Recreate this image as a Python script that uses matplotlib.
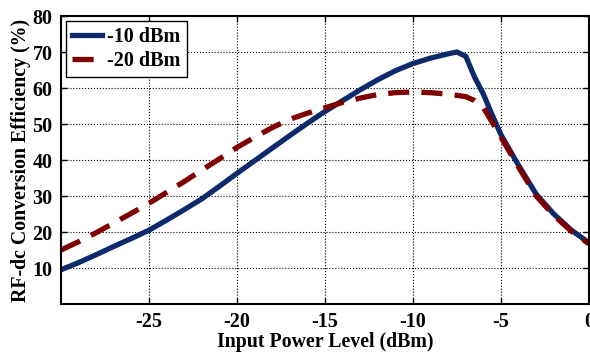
import matplotlib
matplotlib.use('Agg')
import matplotlib.pyplot as plt

# Input power (dBm) and RF-dc conversion efficiency (%)
p_in_10 = [-30, -29, -28, -27, -26, -25, -24, -23, -22, -21, -20, -19, -18, -17,
           -16, -15, -14, -13, -12, -11, -10, -9, -8, -7.5, -7, -6.5, -6, -5.5,
           -5, -4, -3, -2, -1, 0]
eff_10 = [9.5, 11.5, 13.7, 16.0, 18.2, 20.5, 23.3, 26.2, 29.2, 32.7, 36.3, 39.8,
          43.3, 46.8, 50.2, 53.5, 56.5, 59.5, 62.3, 64.8, 66.8, 68.3, 69.5, 70.0,
          68.8, 63.0, 58.3, 52.5, 47.0, 38.5, 30.5, 25.0, 20.5, 17.0]

p_in_20 = [-30, -29, -28, -27, -26, -25, -24, -23, -22, -21, -20, -19, -18, -17,
           -16, -15, -14, -13, -12, -11, -10, -9, -8, -7, -6.5, -6, -5.5, -5,
           -4, -3, -2, -1, 0]
eff_20 = [15.0, 17.3, 19.8, 22.5, 25.2, 28.0, 31.0, 34.0, 37.2, 40.3, 43.5, 46.3,
          49.0, 51.3, 53.0, 54.5, 56.0, 57.2, 58.2, 58.7, 58.9, 58.7, 58.3, 57.6,
          56.5, 54.5, 50.5, 46.3, 38.0, 30.0, 24.6, 20.2, 16.7]

labels = ['-10 dBm', '-20 dBm']
x_ticks = [-25, -20, -15, -10, -5, 0]
y_ticks = [10, 20, 30, 40, 50, 60, 70, 80]

plt.rcParams['font.family'] = ['Liberation Serif', 'DejaVu Serif']
plt.rcParams['font.weight'] = 'bold'
plt.rcParams['axes.unicode_minus'] = False

fig = plt.figure(figsize=(5.9, 3.52), dpi=100)
ax = fig.add_axes([61 / 590, 1 - 304 / 352, 528 / 590, 288 / 352])

ax.plot(p_in_10, eff_10, color='#0c2a6c', lw=3.8, label=labels[0])
ax.plot(p_in_20, eff_20, color='#800000', lw=3.8, dashes=(4, 2.3), label=labels[1])

ax.set_xlim(-30, 0)
ax.set_ylim(0, 80)
ax.set_xticks(x_ticks)
ax.set_yticks(y_ticks)
ax.tick_params(direction='in', top=True, right=True, length=4, width=1,
               labelsize=14.5, pad=6)
for lbl in ax.get_xticklabels() + ax.get_yticklabels():
    lbl.set_fontweight('bold')
ax.grid(True, color='black', linestyle=':', linewidth=0.8)
for sp in ax.spines.values():
    sp.set_linewidth(1.5)

ax.set_xlabel('Input Power Level (dBm)', fontsize=14.3, fontweight='bold', labelpad=0)
ax.set_ylabel('RF-dc Conversion Efficiency (%)', fontsize=14.3, fontweight='bold', labelpad=1)

leg = ax.legend(loc='upper left', prop={'weight': 'bold', 'size': 14.5},
                fancybox=False, framealpha=1, edgecolor='black', handlelength=1.5,
                borderpad=0.3, labelspacing=0.2, handletextpad=0.25,
                borderaxespad=0.25)
leg.get_frame().set_linewidth(1.0)

fig.savefig('out.png', dpi=100)
